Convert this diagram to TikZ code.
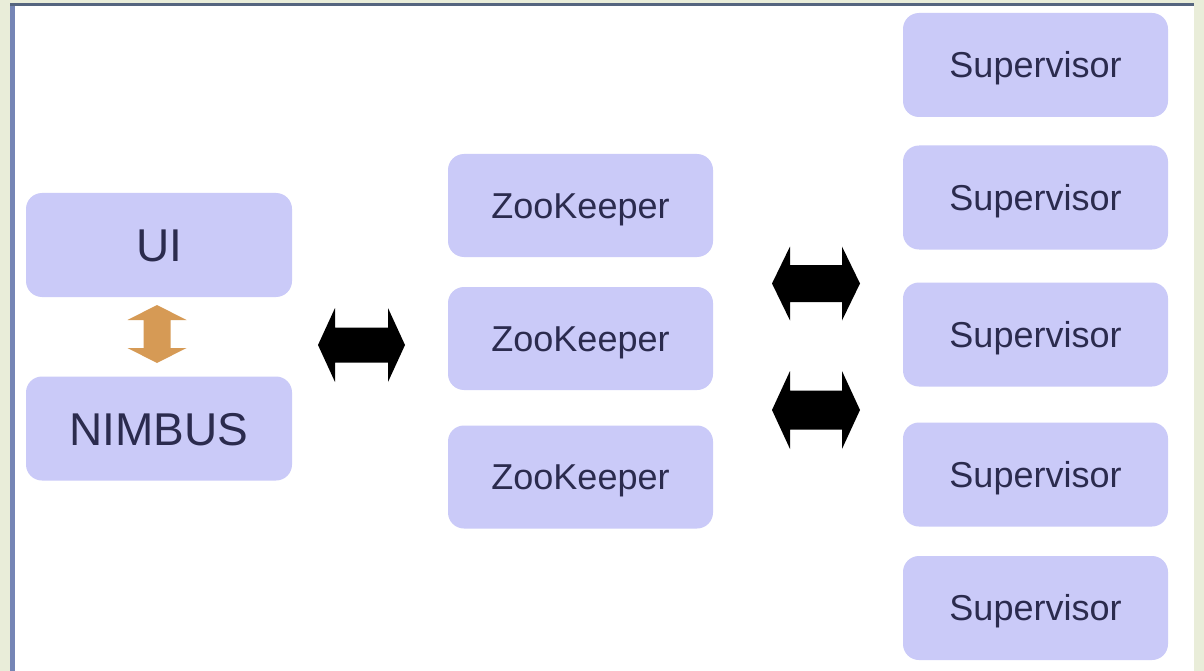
\documentclass[tikz,border=0pt]{standalone}
\usepackage{fontspec}
\setmainfont{Liberation Sans}
\definecolor{bgout}{HTML}{E9EDD9}
\definecolor{boxfill}{HTML}{CACAF8}
\definecolor{boxtext}{HTML}{2B2B4E}
\definecolor{frameleft}{HTML}{7585B5}
\definecolor{frametop}{HTML}{55657F}
\definecolor{orangearrow}{HTML}{D69A55}
\newcommand\dblarr[6]{%
  \fill[#6, shift={(#1)}] (-#2,0) -- (-#2+#3,#4) -- (-#2+#3,#5) -- (#2-#3,#5) -- (#2-#3,#4) -- (#2,0)
    -- (#2-#3,-#4) -- (#2-#3,-#5) -- (-#2+#3,-#5) -- (-#2+#3,-#4) -- cycle;}
\tikzset{
  box/.style={rectangle, rounded corners=16pt, fill=boxfill, text=boxtext,
    minimum width=265pt, minimum height=104pt, inner sep=0pt,
    font=\fontsize{36}{40}\selectfont, text height=25.8pt, text depth=0pt},
  bigbox/.style={box, minimum width=266pt, font=\fontsize{46}{50}\selectfont, text height=33pt},
}
\begin{document}
\begin{tikzpicture}[x=1pt,y=-1pt]
\useasboundingbox (0,0) rectangle (1204,671);
\fill[bgout] (0,0) rectangle (1204,671);
\fill[white] (10,3) rectangle (1194,671);
\fill[frameleft] (10,3) rectangle (15,671);
\fill[frametop] (10,3) rectangle (1194,6);

\node[bigbox] (ui) at (159,245) {UI};
\node[bigbox] (nimbus) at (159,428.5) {NIMBUS};

\node[box, minimum height=103pt] (zk1) at (580.5,205.5) {ZooKeeper};
\node[box, minimum height=103pt] (zk2) at (580.5,338.5) {ZooKeeper};
\node[box, minimum height=103pt] (zk3) at (580.5,477) {ZooKeeper};

\node[box] (s1) at (1035.5,65) {Supervisor};
\node[box] (s2) at (1035.5,197.5) {Supervisor};
\node[box] (s3) at (1035.5,334.5) {Supervisor};
\node[box] (s4) at (1035.5,474.5) {Supervisor};
\node[box] (s5) at (1035.5,608) {Supervisor};

\coordinate (a0) at (157,334);
\coordinate (a1) at (361.5,345);
\coordinate (a2) at (816,283.5);
\coordinate (a3) at (816,410);

\dblarr{a0}{29}{15}{29.5}{13.5}{orangearrow, rotate=90}
\dblarr{a1}{43.5}{17}{37}{17.5}{black}
\dblarr{a2}{44}{18}{37}{18.5}{black}
\dblarr{a3}{44}{18}{39}{19.5}{black}
\end{tikzpicture}
\end{document}
